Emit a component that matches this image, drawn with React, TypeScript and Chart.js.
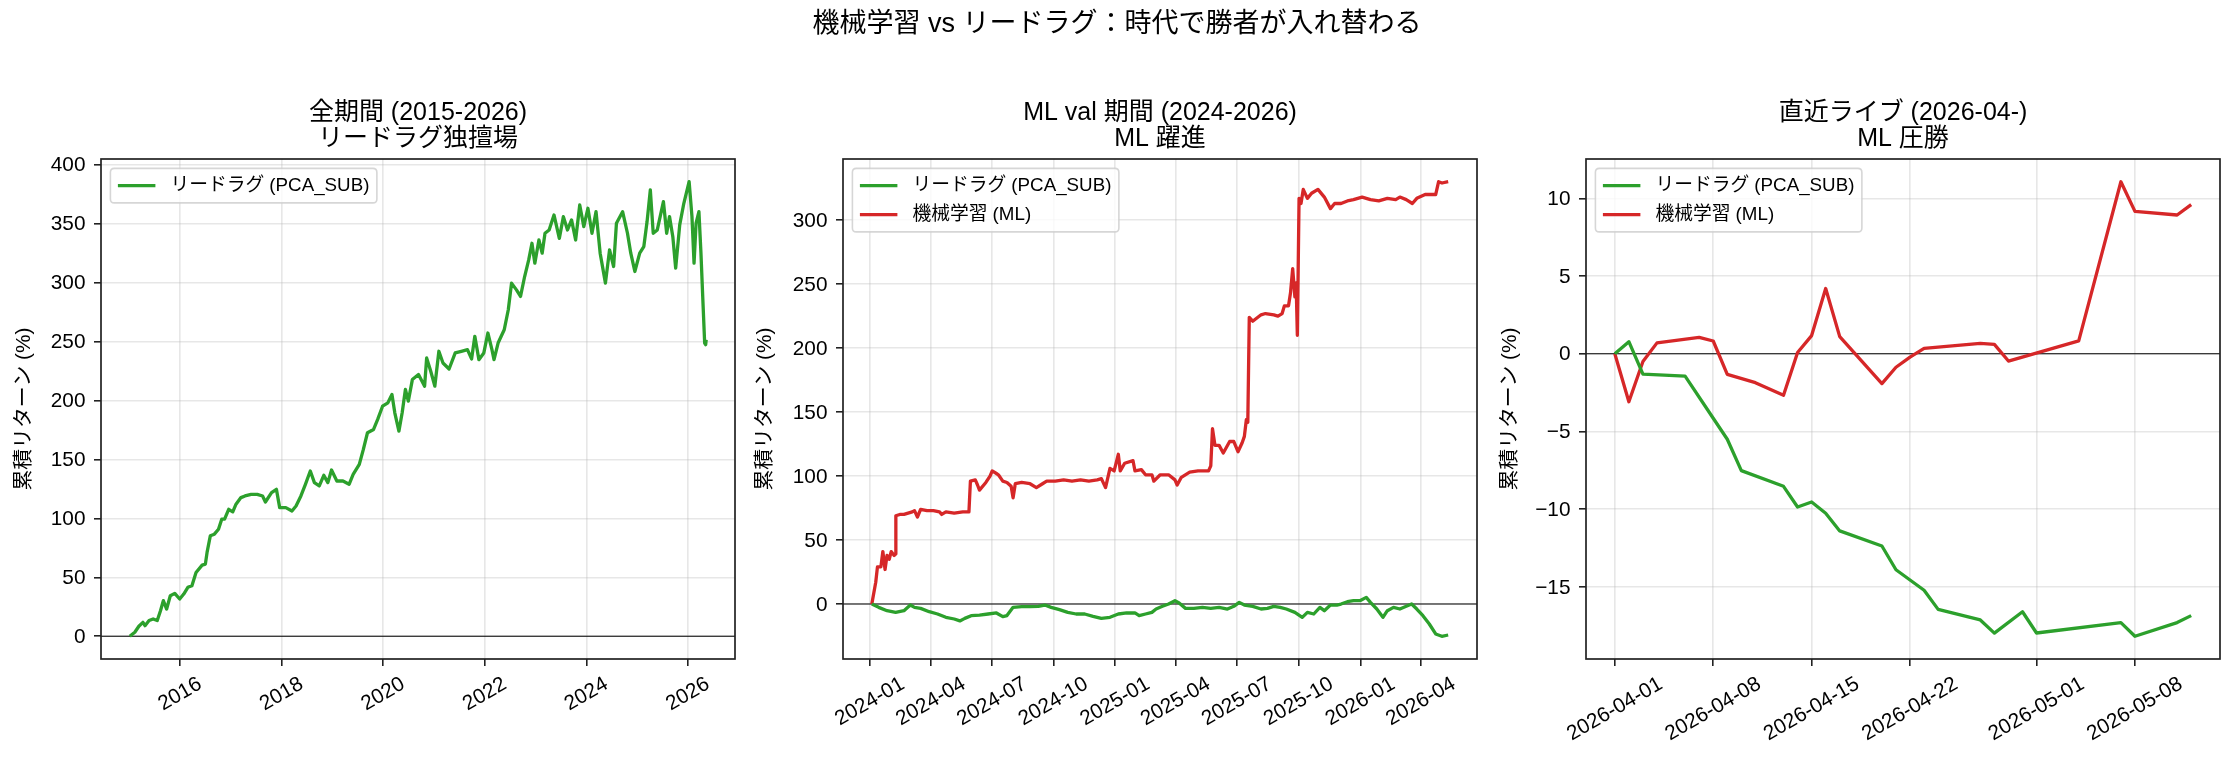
import React, { useEffect, useRef } from 'react';
import { Chart, registerables } from 'chart.js';

Chart.register(...registerables);

const FIG_W = 2234;
const FIG_H = 771;
const PLOT_TOP = 159;
const PLOT_BOTTOM = 659;
const FONT = '"Liberation Sans", "Noto Sans CJK JP", sans-serif';
const GREEN = '#2ca02c';
const RED = '#d62728';

const SUPTITLE = '機械学習 vs リードラグ：時代で勝者が入れ替わる';
const Y_LABEL = '累積リターン (%)';
const LABEL_LEADLAG = 'リードラグ (PCA_SUB)';
const LABEL_ML = '機械学習 (ML)';

// ---------- Panel 1: full period (decimal years) ----------
const fullYears = [
  2015.010, 2015.108, 2015.188, 2015.268, 2015.309, 2015.389, 2015.469, 2015.550, 2015.614, 2015.670,
  2015.735, 2015.807, 2015.895, 2015.992, 2016.072, 2016.153, 2016.233, 2016.314, 2016.434, 2016.498,
  2016.531, 2016.595, 2016.675, 2016.756, 2016.820, 2016.876, 2016.957, 2017.037, 2017.101, 2017.198,
  2017.278, 2017.399, 2017.519, 2017.624, 2017.680, 2017.801, 2017.897, 2017.961, 2018.082, 2018.203,
  2018.283, 2018.379, 2018.468, 2018.564, 2018.645, 2018.741, 2018.830, 2018.910, 2018.982, 2019.087,
  2019.207, 2019.328, 2019.408, 2019.529, 2019.609, 2019.690, 2019.810, 2019.891, 2019.987, 2020.092,
  2020.172, 2020.228, 2020.309, 2020.373, 2020.437, 2020.494, 2020.574, 2020.695, 2020.815, 2020.855,
  2020.936, 2021.016, 2021.096, 2021.177, 2021.297, 2021.418, 2021.539, 2021.659, 2021.740, 2021.804,
  2021.884, 2021.981, 2022.061, 2022.141, 2022.182, 2022.262, 2022.383, 2022.463, 2022.527, 2022.624,
  2022.704, 2022.785, 2022.865, 2022.929, 2022.986, 2023.066, 2023.130, 2023.186, 2023.267, 2023.363,
  2023.468, 2023.548, 2023.629, 2023.709, 2023.789, 2023.870, 2023.950, 2024.031, 2024.111, 2024.191,
  2024.272, 2024.376, 2024.457, 2024.537, 2024.593, 2024.714, 2024.810, 2024.875, 2024.955, 2025.051,
  2025.132, 2025.196, 2025.260, 2025.317, 2025.397, 2025.518, 2025.582, 2025.638, 2025.703, 2025.759,
  2025.839, 2025.920, 2026.024, 2026.080, 2026.121, 2026.161, 2026.217, 2026.257, 2026.289, 2026.330,
  2026.350, 2026.360,
];
const fullLeadLag = [
  0, 3.4, 8.5, 11.8, 9, 13.3, 14.7, 13.3, 21.7, 30.2,
  23.1, 34.4, 36.4, 31.6, 35.8, 41.5, 42.9, 54.1, 60.3, 61.2,
  71.1, 85.2, 86.6, 90.8, 99.3, 99.3, 107.7, 105.5, 112, 117.6,
  119, 120.4, 120.4, 119, 113.9, 121.8, 124.6, 109.1, 109.1, 106.3,
  110.5, 119, 128.9, 140.2, 130.3, 127.5, 136.5, 130.3, 141, 131.7,
  131.7, 128.9, 137.3, 145.8, 158.5, 172.6, 175.4, 183.9, 195.1, 198,
  205, 189.5, 174, 189.5, 209.3, 199.4, 217.7, 222, 212.1, 236,
  224.8, 212.1, 241.7, 231.8, 226.7, 240.3, 241.7, 243.1, 235.2, 254.4,
  234.6, 240.3, 257.2, 243.1, 234.6, 248.7, 260, 276.9, 299.5, 293.8,
  288.2, 305.1, 319.2, 333.3, 316.4, 336.1, 324.9, 341.8, 344.6, 357.3,
  337.5, 355.9, 344.6, 353.1, 336.1, 365.8, 347.4, 363, 341.8, 360.1,
  324.9, 299.5, 327.7, 313.6, 350.3, 360.1, 341.8, 324.9, 309.4, 324.9,
  330.5, 351.7, 378.5, 341.8, 344.6, 368.6, 341.8, 355.9, 338.9, 312.2,
  348.9, 367.2, 385.5, 355.9, 316.4, 350.3, 360.1, 324.9, 291, 248.7,
  247.3, 251.5,
];
const fullXTicks = [2016, 2018, 2020, 2022, 2024, 2026];
const fullXTickLabels = ['2016', '2018', '2020', '2022', '2024', '2026'];
const fullYTicks = [0, 50, 100, 150, 200, 250, 300, 350, 400];

// ---------- Panel 2: ML validation period (decimal years) ----------
const valMlYears = [
  2024.008, 2024.024, 2024.031, 2024.045, 2024.053, 2024.062, 2024.070, 2024.079, 2024.087, 2024.099,
  2024.105, 2024.106, 2024.122, 2024.139, 2024.156, 2024.173, 2024.182, 2024.194, 2024.207, 2024.233,
  2024.259, 2024.284, 2024.293, 2024.310, 2024.344, 2024.379, 2024.404, 2024.410, 2024.430, 2024.439,
  2024.447, 2024.473, 2024.490, 2024.499, 2024.516, 2024.524, 2024.542, 2024.559, 2024.576, 2024.584,
  2024.593, 2024.619, 2024.653, 2024.679, 2024.704, 2024.721, 2024.756, 2024.790, 2024.824, 2024.859,
  2024.893, 2024.927, 2024.944, 2024.961, 2024.979, 2024.996, 2025.013, 2025.021, 2025.039, 2025.073,
  2025.081, 2025.107, 2025.124, 2025.150, 2025.158, 2025.184, 2025.218, 2025.244, 2025.253, 2025.270,
  2025.304, 2025.338, 2025.381, 2025.390, 2025.397, 2025.407, 2025.424, 2025.441, 2025.467, 2025.484,
  2025.501, 2025.518, 2025.527, 2025.535, 2025.541, 2025.547, 2025.561, 2025.595, 2025.613, 2025.647,
  2025.664, 2025.681, 2025.690, 2025.707, 2025.715, 2025.724, 2025.733, 2025.738, 2025.743, 2025.750,
  2025.758, 2025.767, 2025.784, 2025.801, 2025.827, 2025.853, 2025.878, 2025.895, 2025.921, 2025.947,
  2025.972, 2026.007, 2026.041, 2026.075, 2026.110, 2026.144, 2026.161, 2026.187, 2026.212, 2026.230,
  2026.264, 2026.307, 2026.319, 2026.333, 2026.358,
];
const valMl = [
  0, 17, 29, 29, 41, 27, 38, 35, 41, 38,
  39, 69, 70, 70, 71, 72, 73, 68, 74, 73,
  73, 72, 70, 72, 71, 72, 72, 96, 97, 93,
  89, 95, 100, 104, 102, 101, 96, 95, 92, 83,
  94, 95, 94, 91, 94, 96, 96, 97, 96, 97,
  96, 97, 98, 91, 106, 104, 117, 104, 110, 112,
  104, 105, 101, 101, 96, 101, 101, 97, 93, 99,
  103, 104, 104, 108, 137, 124, 124, 118, 127, 127,
  119, 126, 131, 144, 142, 224, 221, 226, 227, 226,
  225, 227, 233, 233, 243, 262, 240, 251, 210, 317,
  313, 324, 317, 321, 324, 318, 309, 313, 313, 315,
  316, 318, 316, 315, 317, 316, 318, 316, 313, 317,
  320, 320, 330, 329, 330,
];
const valLeadLagYears = [
  2024.008, 2024.036, 2024.070, 2024.105, 2024.139, 2024.165, 2024.182, 2024.207, 2024.242, 2024.276,
  2024.310, 2024.344, 2024.367, 2024.387, 2024.413, 2024.447, 2024.482, 2024.516, 2024.542, 2024.559,
  2024.584, 2024.619, 2024.653, 2024.687, 2024.713, 2024.739, 2024.773, 2024.807, 2024.841, 2024.876,
  2024.910, 2024.944, 2024.979, 2025.013, 2025.047, 2025.081, 2025.098, 2025.124, 2025.150, 2025.167,
  2025.193, 2025.218, 2025.244, 2025.261, 2025.287, 2025.321, 2025.356, 2025.390, 2025.424, 2025.458,
  2025.484, 2025.506, 2025.527, 2025.561, 2025.595, 2025.621, 2025.647, 2025.673, 2025.698, 2025.733,
  2025.763, 2025.784, 2025.810, 2025.835, 2025.853, 2025.878, 2025.904, 2025.921, 2025.947, 2025.972,
  2025.998, 2026.024, 2026.041, 2026.067, 2026.092, 2026.110, 2026.135, 2026.161, 2026.187, 2026.209,
  2026.230, 2026.255, 2026.281, 2026.307, 2026.332, 2026.358,
];
const valLeadLag = [
  0, -2.6, -5.2, -6.5, -5.2, -0.8, -2.6, -3.4, -6, -7.8,
  -10.4, -11.7, -13.2, -11.2, -9.1, -8.6, -7.8, -7, -9.9, -9,
  -2.6, -2, -2, -1.8, -0.8, -2.6, -4.4, -6.5, -7.8, -7.8,
  -9.6, -11.2, -10.4, -7.8, -7, -7, -9.1, -7.8, -6.5, -3.9,
  -1.8, 0, 2.6, 0.8, -3.4, -3.4, -2.6, -3.4, -2.6, -3.9,
  -1.8, 1.3, -0.8, -1.8, -3.9, -3.4, -1.8, -2.6, -3.9, -6.5,
  -10.4, -6.5, -7.8, -2.6, -5.2, -0.8, -0.8, 0, 1.8, 2.6,
  2.6, 5.2, 1.3, -3.9, -10.4, -5.2, -2.6, -3.9, -1.8, 0,
  -3.9, -9.1, -15.6, -23.4, -25.2, -24.2,
];
const valXTickDates = [
  '2024-01-01', '2024-04-01', '2024-07-01', '2024-10-01', '2025-01-01',
  '2025-04-01', '2025-07-01', '2025-10-01', '2026-01-01', '2026-04-01',
];
const valXTickLabels = [
  '2024-01', '2024-04', '2024-07', '2024-10', '2025-01',
  '2025-04', '2025-07', '2025-10', '2026-01', '2026-04',
];
const valYTicks = [0, 50, 100, 150, 200, 250, 300];

// ---------- Panel 3: recent live (dates) ----------
const liveLeadLagDates = [
  '2026-04-01', '2026-04-02', '2026-04-03', '2026-04-06', '2026-04-08', '2026-04-09', '2026-04-10',
  '2026-04-13', '2026-04-14', '2026-04-15', '2026-04-16', '2026-04-17', '2026-04-20', '2026-04-21',
  '2026-04-23', '2026-04-24', '2026-04-27', '2026-04-28', '2026-04-30', '2026-05-01', '2026-05-07',
  '2026-05-08', '2026-05-11', '2026-05-12',
];
const liveLeadLag = [
  0, 0.78, -1.31, -1.44, -4.15, -5.5, -7.52,
  -8.53, -9.86, -9.54, -10.26, -11.4, -12.37, -13.9,
  -15.22, -16.45, -17.13, -17.98, -16.6, -17.97, -17.3,
  -18.18, -17.3, -16.85,
];
const liveMlDates = [
  '2026-04-01', '2026-04-02', '2026-04-03', '2026-04-04', '2026-04-07', '2026-04-08', '2026-04-09',
  '2026-04-11', '2026-04-13', '2026-04-14', '2026-04-15', '2026-04-16', '2026-04-17', '2026-04-20',
  '2026-04-21', '2026-04-22', '2026-04-23', '2026-04-27', '2026-04-28', '2026-04-29', '2026-05-04',
  '2026-05-07', '2026-05-08', '2026-05-11', '2026-05-12',
];
const liveMl = [
  0, -3.09, -0.5, 0.7, 1.06, 0.82, -1.33,
  -1.86, -2.67, 0.08, 1.17, 4.2, 1.1, -1.92,
  -0.87, -0.22, 0.35, 0.67, 0.6, -0.47, 0.83,
  11.07, 9.16, 8.93, 9.6,
];
const liveXTickDates = ['2026-04-01', '2026-04-08', '2026-04-15', '2026-04-22', '2026-05-01', '2026-05-08'];
const liveYTicks = [-15, -10, -5, 0, 5, 10];

// ---------- helpers ----------
function decYear(iso: string): number {
  const [y, m, d] = iso.split('-').map(Number);
  const t = Date.UTC(y, m - 1, d);
  const s = Date.UTC(y, 0, 1);
  const e = Date.UTC(y + 1, 0, 1);
  return y + (t - s) / (e - s);
}

function fmtTick(v: number): string {
  return v < 0 ? '\u2212' + String(Math.abs(v)) : String(v);
}

type Series = { label: string; color: string; xs: number[]; ys: number[] };
type Panel = {
  left: number;
  right: number;
  title: string[];
  series: Series[];
  xTicks: number[];
  xTickLabels: string[];
  yTicks: number[];
  yLabelX: number;
};

const panels: Panel[] = [
  {
    left: 101,
    right: 735,
    title: ['全期間 (2015-2026)', 'リードラグ独擅場'],
    series: [{ label: LABEL_LEADLAG, color: GREEN, xs: fullYears, ys: fullLeadLag }],
    xTicks: fullXTicks,
    xTickLabels: fullXTickLabels,
    yTicks: fullYTicks,
    yLabelX: 24,
  },
  {
    left: 843,
    right: 1477,
    title: ['ML val 期間 (2024-2026)', 'ML 躍進'],
    series: [
      { label: LABEL_LEADLAG, color: GREEN, xs: valLeadLagYears, ys: valLeadLag },
      { label: LABEL_ML, color: RED, xs: valMlYears, ys: valMl },
    ],
    xTicks: valXTickDates.map(decYear),
    xTickLabels: valXTickLabels,
    yTicks: valYTicks,
    yLabelX: 765,
  },
  {
    left: 1586,
    right: 2220,
    title: ['直近ライブ (2026-04-)', 'ML 圧勝'],
    series: [
      { label: LABEL_LEADLAG, color: GREEN, xs: liveLeadLagDates.map(decYear), ys: liveLeadLag },
      { label: LABEL_ML, color: RED, xs: liveMlDates.map(decYear), ys: liveMl },
    ],
    xTicks: liveXTickDates.map(decYear),
    xTickLabels: liveXTickDates,
    yTicks: liveYTicks,
    yLabelX: 1510,
  },
];

const TICK_FS = 20.8;
const LABEL_FS = 20.8;
const TITLE_FS = 25;
const SUPTITLE_FS = 27;
const LEGEND_FS = 18.75;

function range(vals: number[]): [number, number] {
  const mn = Math.min(...vals);
  const mx = Math.max(...vals);
  const m = (mx - mn) * 0.05;
  return [mn - m, mx + m];
}

function makeDecor(p: Panel, withSuptitle: boolean) {
  return {
    id: 'decor',
    beforeDatasetsDraw(chart: any) {
      const { ctx, chartArea: a } = chart;
      const y0 = chart.scales.y.getPixelForValue(0);
      ctx.save();
      ctx.strokeStyle = '#000';
      ctx.lineWidth = 1.1;
      ctx.beginPath();
      ctx.moveTo(a.left, y0);
      ctx.lineTo(a.right, y0);
      ctx.stroke();
      ctx.restore();
    },
    afterDatasetsDraw(chart: any) {
      const { ctx, chartArea: a } = chart;
      ctx.save();
      ctx.strokeStyle = '#222';
      ctx.lineWidth = 1.7;
      ctx.strokeRect(a.left, a.top, a.right - a.left, a.bottom - a.top);
      ctx.restore();
    },
    afterDraw(chart: any) {
      const { ctx, chartArea: a } = chart;
      const cx = (a.left + a.right) / 2;
      ctx.save();
      ctx.fillStyle = '#000';
      // suptitle
      if (withSuptitle) {
        ctx.font = `${SUPTITLE_FS}px ${FONT}`;
        ctx.textAlign = 'center';
        ctx.textBaseline = 'middle';
        ctx.fillText(SUPTITLE, FIG_W / 2, 25);
      }
      // axes title
      ctx.font = `${TITLE_FS}px ${FONT}`;
      ctx.textAlign = 'center';
      ctx.textBaseline = 'middle';
      ctx.fillText(p.title[0], cx, 113);
      ctx.fillText(p.title[1], cx, 139);
      // y label
      ctx.save();
      ctx.font = `${LABEL_FS}px ${FONT}`;
      ctx.translate(p.yLabelX, (a.top + a.bottom) / 2);
      ctx.rotate(-Math.PI / 2);
      ctx.fillText(Y_LABEL, 0, 0);
      ctx.restore();
      // y tick labels
      ctx.font = `${TICK_FS}px ${FONT}`;
      ctx.textAlign = 'right';
      ctx.textBaseline = 'middle';
      p.yTicks.forEach((v) => {
        const y = chart.scales.y.getPixelForValue(v);
        ctx.fillText(fmtTick(v), a.left - 15.5, y + 1);
      });
      // x tick labels (rotated 30deg, centered on tick)
      const ang = Math.PI / 6;
      const top = a.bottom + 7.3 + 7.3;
      p.xTicks.forEach((v, i) => {
        const x = chart.scales.x.getPixelForValue(v);
        const text = p.xTickLabels[i];
        const w = ctx.measureText(text).width;
        const h = TICK_FS;
        const bh = w * Math.sin(ang) + h * Math.cos(ang);
        ctx.save();
        ctx.translate(x, top + bh / 2);
        ctx.rotate(-ang);
        ctx.textAlign = 'center';
        ctx.textBaseline = 'middle';
        ctx.fillText(text, 0, 0);
        ctx.restore();
      });
      // legend
      ctx.font = `${LEGEND_FS}px ${FONT}`;
      const pad = 7.5;
      const handle = 37.5;
      const textPad = 15;
      const rowH = 29;
      const textW = Math.max(...p.series.map((s) => ctx.measureText(s.label).width));
      const bx = a.left + 9.4;
      const by = a.top + 9.4;
      const bw = pad + handle + textPad + textW + pad;
      const bhh = pad * 2 + 19.5 + (p.series.length - 1) * rowH;
      const r = 4;
      ctx.beginPath();
      ctx.moveTo(bx + r, by);
      ctx.lineTo(bx + bw - r, by);
      ctx.quadraticCurveTo(bx + bw, by, bx + bw, by + r);
      ctx.lineTo(bx + bw, by + bhh - r);
      ctx.quadraticCurveTo(bx + bw, by + bhh, bx + bw - r, by + bhh);
      ctx.lineTo(bx + r, by + bhh);
      ctx.quadraticCurveTo(bx, by + bhh, bx, by + bhh - r);
      ctx.lineTo(bx, by + r);
      ctx.quadraticCurveTo(bx, by, bx + r, by);
      ctx.closePath();
      ctx.fillStyle = 'rgba(255,255,255,0.8)';
      ctx.fill();
      ctx.strokeStyle = 'rgba(204,204,204,0.8)';
      ctx.lineWidth = 1.6;
      ctx.stroke();
      p.series.forEach((s, i) => {
        const yy = by + pad + 9.75 + i * rowH;
        ctx.strokeStyle = s.color;
        ctx.lineWidth = 3.3;
        ctx.beginPath();
        ctx.moveTo(bx + pad, yy);
        ctx.lineTo(bx + pad + handle, yy);
        ctx.stroke();
        ctx.fillStyle = '#000';
        ctx.textAlign = 'left';
        ctx.textBaseline = 'middle';
        ctx.fillText(s.label, bx + pad + handle + textPad, yy);
      });
      ctx.restore();
    },
  };
}

function buildConfig(p: Panel, withSuptitle: boolean): any {
  const [xMin, xMax] = range(p.series.flatMap((s) => s.xs));
  const [yMin, yMax] = range(p.series.flatMap((s) => s.ys));
  const grid = {
    color: 'rgba(176,176,176,0.3)',
    lineWidth: 1.6,
    tickColor: '#222',
    tickWidth: 1.6,
    tickLength: 7,
  };
  return {
    type: 'line',
    data: {
      datasets: p.series.map((s) => ({
        label: s.label,
        data: s.xs.map((x, i) => ({ x, y: s.ys[i] })),
        borderColor: s.color,
        backgroundColor: s.color,
        borderWidth: 3.3,
        pointRadius: 0,
        tension: 0,
        fill: false,
        borderJoinStyle: 'round',
      })),
    },
    options: {
      responsive: false,
      maintainAspectRatio: false,
      devicePixelRatio: 1,
      animation: false,
      events: [],
      layout: {
        padding: { left: p.left, right: FIG_W - p.right, top: PLOT_TOP, bottom: FIG_H - PLOT_BOTTOM },
      },
      plugins: { legend: { display: false }, title: { display: false }, tooltip: { enabled: false } },
      scales: {
        x: {
          type: 'linear',
          min: xMin,
          max: xMax,
          border: { display: false },
          grid,
          ticks: { display: false },
          afterBuildTicks: (scale: any) => {
            scale.ticks = p.xTicks.map((v) => ({ value: v }));
          },
          afterFit: (scale: any) => {
            scale.height = 0;
          },
        },
        y: {
          type: 'linear',
          min: yMin,
          max: yMax,
          border: { display: false },
          grid,
          ticks: { display: false },
          afterBuildTicks: (scale: any) => {
            scale.ticks = p.yTicks.map((v) => ({ value: v }));
          },
          afterFit: (scale: any) => {
            scale.width = 0;
          },
        },
      },
    },
    plugins: [makeDecor(p, withSuptitle)],
  };
}

export default function App() {
  const r0 = useRef<HTMLCanvasElement>(null);
  const r1 = useRef<HTMLCanvasElement>(null);
  const r2 = useRef<HTMLCanvasElement>(null);
  const refs = [r0, r1, r2];

  useEffect(() => {
    document.body.style.margin = '0';
    const charts = panels.map((p, i) => new Chart(refs[i].current as HTMLCanvasElement, buildConfig(p, i === 0)));
    return () => charts.forEach((c) => c.destroy());
  }, []);

  return (
    <div style={{ position: 'absolute', left: 0, top: 0, width: FIG_W, height: FIG_H, background: '#fff', overflow: 'hidden' }}>
      {panels.map((p, i) => (
        <canvas
          key={i}
          ref={refs[i]}
          width={FIG_W}
          height={FIG_H}
          style={{ position: 'absolute', left: 0, top: 0, width: FIG_W, height: FIG_H }}
        />
      ))}
    </div>
  );
}
